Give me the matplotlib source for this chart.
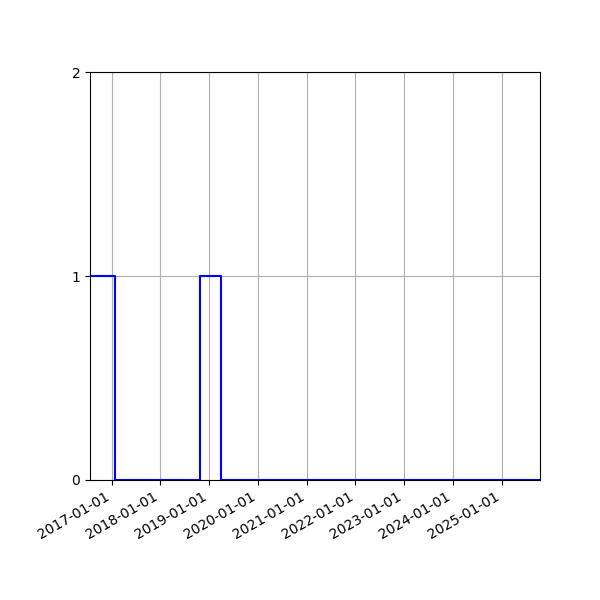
import pandas as pd
import matplotlib
matplotlib.use("Agg")
import matplotlib.pyplot as plt
import matplotlib.dates as mdates

# step points (value holds until next date)
dates = pd.to_datetime(["2016-07-23", "2017-01-26", "2018-10-28", "2019-04-03", "2025-10-16"])
values = [1, 0, 1, 0, 0]

fig, ax = plt.subplots(figsize=(6, 6), dpi=100)
ax.plot(dates, values, drawstyle="steps-post", color="blue")

ax.set_xlim(dates[0], dates[-1])
ax.set_ylim(0, 2)
ax.set_yticks([0, 1, 2])
ax.xaxis.set_major_locator(mdates.YearLocator())
ax.xaxis.set_major_formatter(mdates.DateFormatter("%Y-%m-%d"))
ax.grid(True)

fig.autofmt_xdate()
fig.subplots_adjust(left=0.15, right=0.9, top=0.88, bottom=0.2)
fig.savefig("out.png")
